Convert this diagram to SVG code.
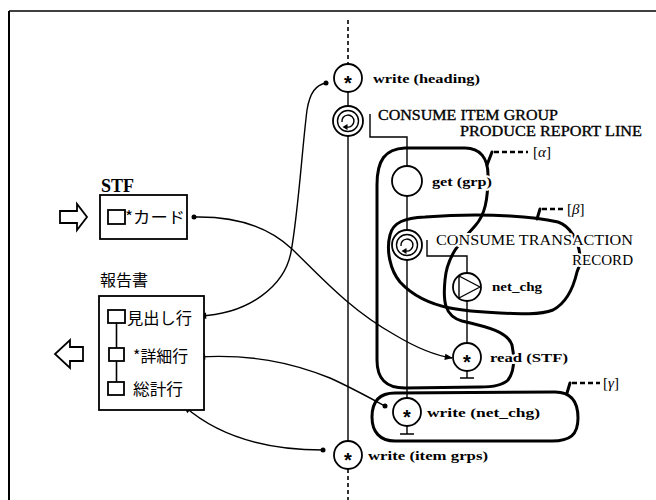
<svg xmlns="http://www.w3.org/2000/svg" width="656" height="500" viewBox="0 0 656 500">
<defs>
<marker id="ah" viewBox="0 0 10 10" refX="9" refY="5" markerWidth="9" markerHeight="8" markerUnits="userSpaceOnUse" orient="auto"><path d="M0,1 L10,5 L0,9 Z" fill="#000"/></marker>
</defs>
<style>
.ln{fill:none;stroke:#000;stroke-width:1.4}
.dash{fill:none;stroke:#000;stroke-width:1.6;stroke-dasharray:4 3}
.nd{fill:#fff;stroke:#000;stroke-width:1.8}
.box{fill:#fff;stroke:#000;stroke-width:1.8}
.loop{fill:none;stroke:#000;stroke-width:3;stroke-linecap:round;stroke-linejoin:round}
.ptr{fill:none;stroke:#000;stroke-width:2.6;stroke-dasharray:5 3}
.lbl{font-family:"Liberation Serif",serif;font-weight:bold;font-size:13px}
.cap{font-family:"Liberation Serif",serif;font-size:15px;stroke:#000;stroke-width:0.35}
.gr{font-family:"Liberation Serif",serif;font-size:15px}
.jp{font-family:"Noto Sans CJK JP",sans-serif;font-size:16px}
.halo{paint-order:stroke;stroke:#fff;stroke-width:4;stroke-linejoin:round}
.star{font-family:"Liberation Sans",sans-serif;font-weight:bold;font-size:20px;text-anchor:middle}
.dot{fill:#000}
</style>
<rect width="656" height="500" fill="#fff"/>
<g id="frame">
<line x1="9" y1="11" x2="656" y2="11" stroke="#000" stroke-width="1.5"/>
<line x1="9" y1="11" x2="9" y2="500" stroke="#000" stroke-width="2"/>
</g>
<g id="groups">
<path id="alpha" class="loop" d="M377,300 L377,185 C377,160 385,149 405,148 L465,148 C480,148 488,158 488,175 C488,200 485,215 475,226 C462,240 447,255 445,280 C443,300 444,316 462,321 C488,327 508,332 512,345 C515,360 514,372 508,380 C502,386 492,387 480,387 L405,388 C385,388 377,378 377,360 Z"/>
<path id="beta" class="loop" d="M390,235 C393,222 405,218 425,217 C450,215 480,214 510,216 C530,217 545,219 558,222 C570,226 578,240 580,255 C581,262 579,268 577,272 C574,285 568,302 553,310 C540,315 520,314 500,313 C480,312 465,311 450,308 C430,304 412,295 400,282 C390,270 386,250 390,235 Z"/>
<path id="gamma" class="loop" d="M395,393 L555,392 C572,392 578,402 578,418 C578,435 570,441 552,441 L395,441 C380,441 372,432 372,417 C372,401 380,393 395,393 Z"/>
<path class="loop" d="M487,165 L492,152"/>
<path class="ptr" d="M494,152 H528"/>
<path class="loop" d="M537,219 L540,209"/>
<path class="ptr" d="M542,209 H565"/>
<path class="loop" d="M567,393 L570,383"/>
<path class="ptr" d="M572,383 H600"/>
<text class="gr" x="533" y="157">[<tspan font-style="italic">α</tspan>]</text>
<text class="gr" x="567" y="214">[<tspan font-style="italic">β</tspan>]</text>
<text class="gr" x="603" y="388">[<tspan font-style="italic">γ</tspan>]</text>
</g>
<g id="connectors">
<path class="dash" d="M348,20 V64"/>
<path class="ln" d="M348,92 V106"/>
<path class="ln" d="M348,136 V441"/>
<path class="dash" d="M348,469 V500"/>
<path class="ln" d="M370,114 V137 H407 V166"/>
<path class="ln" d="M407,196 V230"/>
<path class="ln" d="M407,260 V398"/>
<path class="ln" d="M427,240 V256 H467 V273"/>
<path class="ln" d="M467,301 V343"/>
<path class="ln" d="M326,83 C316,85 310,92 307,110 C302,150 298,215 291,252 C285,285 250,314 199,316" marker-end="url(#ah)"/>
<circle class="dot" cx="326" cy="83" r="2.5"/>
<path class="ln" d="M194,217 C240,216 270,228 292,249 C320,276 350,310 395,335 C415,347 432,355 452,358" marker-end="url(#ah)"/>
<circle class="dot" cx="194" cy="217" r="2.5"/>
<path class="ln" d="M385,406 C370,398 350,387 330,378 C290,362 250,354 198,357" marker-end="url(#ah)"/>
<circle class="dot" cx="385" cy="406" r="2.5"/>
<path class="ln" d="M323,450 C280,450 225,442 184,406" marker-end="url(#ah)"/>
<circle class="dot" cx="323" cy="450" r="2.5"/>
</g>
<g id="stf">
<text x="101" y="192" font-family="Liberation Serif, serif" font-weight="bold" font-size="18">STF</text>
<rect class="box" x="100" y="195" width="87" height="44"/>
<rect class="box" x="108" y="210" width="17" height="14"/>
<text class="jp" x="125" y="223" textLength="60" lengthAdjust="spacingAndGlyphs">*カード</text>
</g>
<g id="in-arrow">
<polygon points="60,211 77,211 77,204 87,217 77,230 77,223 60,223" fill="#fff" stroke="#000" stroke-width="1.8" stroke-linejoin="miter"/>
</g>
<g id="report">
<text class="jp" x="100" y="286" textLength="48" lengthAdjust="spacingAndGlyphs">報告書</text>
<rect class="box" x="99" y="296" width="105" height="114"/>
<line x1="116.5" y1="323" x2="116.5" y2="382" stroke="#000" stroke-width="1.6"/>
<rect class="box" x="108" y="310" width="17" height="13"/>
<rect class="box" x="109" y="348" width="15" height="13"/>
<rect class="box" x="108" y="382" width="16" height="13"/>
<text class="jp" x="127" y="324" textLength="65" lengthAdjust="spacingAndGlyphs">見出し行</text>
<text class="jp" x="133" y="362" textLength="55" lengthAdjust="spacingAndGlyphs">*詳細行</text>
<text class="jp" x="133" y="395" textLength="50" lengthAdjust="spacingAndGlyphs">総計行</text>
</g>
<g id="out-arrow">
<polygon points="83,347 70,347 70,340 55,354 70,368 70,361 83,361" fill="#fff" stroke="#000" stroke-width="1.8"/>
</g>
<g id="n-write-heading">
<circle class="nd" cx="348" cy="78" r="14"/>
<text class="star" x="348" y="89.5">*</text>
<text class="lbl" x="373" y="83" textLength="107" lengthAdjust="spacingAndGlyphs">write (heading)</text>
</g>
<g id="n-consume-item">
<circle class="nd" cx="348" cy="121" r="15"/>
<circle fill="none" stroke="#000" stroke-width="1.4" cx="348" cy="121" r="10.5"/>
<path d="M342,122 A6 6 0 1 1 347,127" fill="none" stroke="#000" stroke-width="1.4"/>
<polygon points="342.5,127 347.5,124 347.5,130" fill="#000"/>
<text class="cap" x="378" y="120" textLength="180" lengthAdjust="spacingAndGlyphs">CONSUME ITEM GROUP</text>
<text class="cap" x="460" y="136" textLength="182" lengthAdjust="spacingAndGlyphs">PRODUCE REPORT LINE</text>
</g>
<g id="n-get">
<circle class="nd" cx="407" cy="181" r="15"/>
<text class="lbl halo" x="432" y="186" textLength="60" lengthAdjust="spacingAndGlyphs">get (grp)</text>
</g>
<g id="n-consume-trans">
<circle class="nd" cx="407" cy="245" r="15"/>
<circle fill="none" stroke="#000" stroke-width="1.4" cx="407" cy="245" r="10.5"/>
<path d="M401,246 A6 6 0 1 1 406,251" fill="none" stroke="#000" stroke-width="1.4"/>
<polygon points="401.5,251 406.5,248 406.5,254" fill="#000"/>
<text class="cap halo" x="436" y="245" textLength="197" lengthAdjust="spacingAndGlyphs">CONSUME TRANSACTION</text>
<text class="cap halo" x="572" y="265" textLength="61" lengthAdjust="spacingAndGlyphs">RECORD</text>
</g>
<g id="n-net-chg">
<circle class="nd" cx="467" cy="287" r="14"/>
<polygon points="459,276 480,287 459,298" fill="none" stroke="#000" stroke-width="1.4" stroke-linejoin="round"/>
<text class="lbl" x="492" y="291" textLength="50" lengthAdjust="spacingAndGlyphs">net_chg</text>
</g>
<g id="n-read">
<circle class="nd" cx="467" cy="357" r="14"/>
<text class="star" x="467" y="368.5">*</text>
<path class="ln" d="M467,371 V378 M460,378 H474"/>
<text class="lbl halo" x="490" y="362" textLength="78" lengthAdjust="spacingAndGlyphs">read (STF)</text>
</g>
<g id="n-write-net">
<circle class="nd" cx="407" cy="412" r="14"/>
<text class="star" x="407" y="423.5">*</text>
<path class="ln" d="M407,426 V434 M400,434 H414"/>
<text class="lbl" x="427" y="417" textLength="113" lengthAdjust="spacingAndGlyphs">write  (net_chg)</text>
</g>
<g id="n-write-items">
<circle class="nd" cx="348" cy="455" r="14"/>
<text class="star" x="348" y="466.5">*</text>
<text class="lbl" x="368" y="460" textLength="120" lengthAdjust="spacingAndGlyphs">write (item grps)</text>
</g>
</svg>
